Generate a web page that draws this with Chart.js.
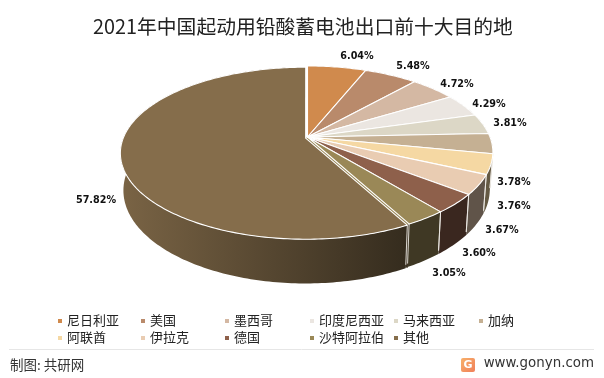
<!DOCTYPE html>
<html><head><meta charset="utf-8">
<style>html,body{margin:0;padding:0;background:#fff}canvas{display:block}</style>
<script src="https://cdn.jsdelivr.net/npm/chart.js@4/dist/chart.umd.js"></script>
</head><body><canvas id="c" width="604" height="378"></canvas>
<script>
const categories = ['尼日利亚','美国','墨西哥','印度尼西亚','马来西亚','加纳','阿联酋','伊拉克','德国','沙特阿拉伯','其他'];
const shares = [6.04,5.48,4.72,4.29,3.81,3.78,3.76,3.67,3.60,3.05,57.82];
const sliceColors = ['#d08a4d','#b98a6b','#d4b8a3','#ebe6e1','#dcd7c6','#c5b093','#f5d8a3','#e9ccb2','#8e604b','#9a8857','#856d4b'];
const titleText = '2021年中国起动用铅酸蓄电池出口前十大目的地';
const sourceText = '制图: 共研网';
const siteText = 'www.gonyn.com';
// label centres, layout only
const labelSpots = [[357,56],[413,66],[457,84],[489,104],[510,123],[514,182],[514,206],[502,230],[479,253],[449,273],[96,200]];
const legendCols = [60,143,227,312,396,481];
const legendRows = [321,338];

const TOP = {cx:307.5, cy:137, a:182.5, b:83.4, k:0.1744};
const BOT = {cx:307.5, cy:173, a:179.5, b:90.2, k:0.1744};
const BIG_SHIFT = [-1.8, 1.2];
function proj(P, ang){
  const u=Math.cos(ang), v=Math.sin(ang), d=1-P.k*v;
  return [P.cx+P.a*u/d, P.cy+P.b*v/d];
}
function hexRgb(h,f){const n=parseInt(h.slice(1),16);return `rgb(${Math.round((n>>16&255)*f)},${Math.round((n>>8&255)*f)},${Math.round((n&255)*f)})`;}
function arcPts(P,a0,a1){const n=Math.max(2,Math.ceil(Math.abs(a1-a0)/(Math.PI/180)));const o=[];for(let i=0;i<=n;i++)o.push(proj(P,a0+(a1-a0)*i/n));return o;}

// Arcs keep the library's angles; only the painting goes through the tilted projection.
const ArcProto = Chart.registry.getElement('arc').prototype;
ArcProto.draw = function(ctx){
  const o=this.options, sh=o.offset?BIG_SHIFT:[0,0];
  const pts=arcPts(TOP,this.startAngle,this.endAngle);
  ctx.save();ctx.translate(sh[0],sh[1]);
  ctx.beginPath();ctx.moveTo(TOP.cx,TOP.cy);pts.forEach(p=>ctx.lineTo(p[0],p[1]));ctx.closePath();
  ctx.fillStyle=o.backgroundColor;ctx.fill();
  ctx.strokeStyle='#fff';ctx.lineWidth=1.1;ctx.lineJoin='round';ctx.stroke();
  ctx.restore();
};

const wallPlugin={id:'walls',beforeDatasetsDraw(chart){
  const ctx=chart.ctx, arcs=chart.getDatasetMeta(0).data;
  arcs.forEach((el,i)=>{
    const sh=el.options.offset?BIG_SHIFT:[0,0];
    const t=arcPts(TOP,el.startAngle,el.endAngle), b=arcPts(BOT,el.startAngle,el.endAngle);
    ctx.save();ctx.translate(sh[0],sh[1]);
    ctx.beginPath();t.forEach((p,j)=>j?ctx.lineTo(p[0],p[1]):ctx.moveTo(p[0],p[1]));
    b.reverse().forEach(p=>ctx.lineTo(p[0],p[1]));ctx.closePath();
    if(el.options.offset){
      const g=ctx.createLinearGradient(122,0,408,0);
      g.addColorStop(0,hexRgb(sliceColors[i],.92));g.addColorStop(1,hexRgb(sliceColors[i],.4));
      ctx.fillStyle=g;
    } else ctx.fillStyle=hexRgb(sliceColors[i],.41);
    ctx.fill();
    ctx.restore();
  });
  // thin cut face showing in the gap beside the pulled-out slice
  const last=arcs[arcs.length-1], an=last.startAngle;
  const p=proj(TOP,an), q=proj(BOT,an), mx=BIG_SHIFT[0]/2, my=BIG_SHIFT[1]/2;
  ctx.save();ctx.lineWidth=2.6;
  ctx.strokeStyle=sliceColors[sliceColors.length-2];
  ctx.beginPath();ctx.moveTo(TOP.cx+mx,TOP.cy+my);ctx.lineTo(p[0]+mx,p[1]+my);ctx.stroke();
  ctx.strokeStyle='#3a3020';
  ctx.beginPath();ctx.moveTo(p[0]+mx,p[1]+my);ctx.lineTo(q[0]+mx,q[1]+my);ctx.stroke();
  ctx.restore();
  arcs.forEach(el=>{
    const sh=el.options.offset?BIG_SHIFT:[0,0];
    [el.startAngle,el.endAngle].forEach(an=>{
      const s=Math.sin(an);if(s<0.1)return;
      const p=proj(TOP,an),q=proj(BOT,an);
      ctx.save();ctx.translate(sh[0],sh[1]);
      ctx.strokeStyle='rgba(235,232,226,.9)';ctx.lineWidth=1;
      ctx.beginPath();ctx.moveTo(p[0],p[1]);ctx.lineTo(q[0]+(p[0]-q[0])*.08,q[1]+(p[1]-q[1])*.08);ctx.stroke();
      ctx.restore();
    });
  });
}};

const decorPlugin={id:'decor',afterDraw(chart){
  const ctx=chart.ctx;ctx.save();
  ctx.textBaseline='middle';ctx.textAlign='center';
  ctx.font='bold 10.7px "DejaVu Sans Condensed"';ctx.fillStyle='#111';
  shares.forEach((v,i)=>ctx.fillText(v.toFixed(2)+'%',labelSpots[i][0],labelSpots[i][1]));
  ctx.textAlign='left';
  ctx.font='13px "Noto Sans CJK SC"';
  categories.forEach((name,i)=>{
    const x=legendCols[i%6], y=legendRows[Math.floor(i/6)];
    ctx.fillStyle=sliceColors[i];ctx.fillRect(x-2,y-2,4,4);
    ctx.fillStyle='#222';ctx.fillText(name,x+7,y-0.5);
  });
  ctx.strokeStyle='#e6e6e6';ctx.lineWidth=1;
  ctx.beginPath();ctx.moveTo(9,349.5);ctx.lineTo(594,349.5);ctx.stroke();
  ctx.fillStyle='#333';ctx.font='13.5px "Noto Sans CJK SC"';ctx.fillText(sourceText,10,365);
  ctx.font='13.4px "DejaVu Sans"';ctx.fillStyle='#333';
  ctx.textAlign='right';ctx.fillText(siteText,594,364);
  const g=ctx.createLinearGradient(460,358,475,372);g.addColorStop(0,'#f8b26a');g.addColorStop(1,'#f07f5a');
  ctx.fillStyle=g;ctx.beginPath();ctx.roundRect(461,358,14,14,2);ctx.fill();
  ctx.fillStyle='#fff';ctx.font='bold 11px "DejaVu Sans"';ctx.textAlign='center';ctx.fillText('G',468,365);
  ctx.restore();
}};

new Chart(document.getElementById('c'),{
  type:'pie',
  data:{labels:categories,datasets:[{data:shares,backgroundColor:sliceColors,
    offset:shares.map((v,i)=>i===shares.length-1?1:0),borderWidth:0}]},
  options:{responsive:false,animation:false,rotation:0,
    layout:{padding:{bottom:60,left:2}},
    plugins:{legend:{display:false},tooltip:{enabled:false},
      title:{display:true,text:titleText,color:'#222',padding:{top:15,bottom:6},
        font:{family:'"Noto Sans CJK SC"',size:19.8,weight:'normal'}}}},
  plugins:[wallPlugin,decorPlugin]
});
</script></body></html>
